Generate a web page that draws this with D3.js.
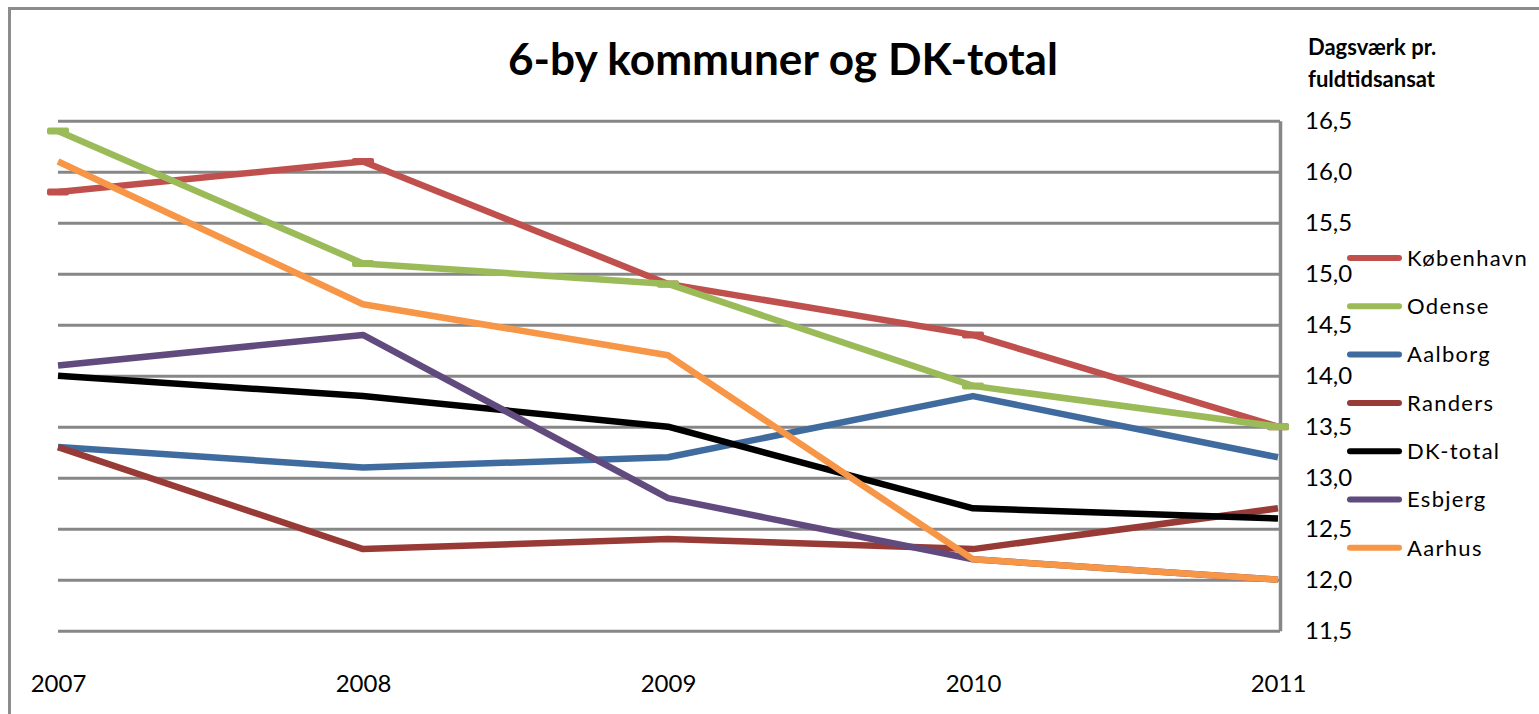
<!DOCTYPE html>
<html>
<head>
<meta charset="utf-8">
<script src="https://cdn.jsdelivr.net/npm/d3@7"></script>
<style>
  body { margin: 0; background: #fff; }
  svg { display: block; font-family: Lato, "Open Sans", sans-serif; }
</style>
</head>
<body>
<svg id="viz" width="1539" height="714"></svg>
<script>
// --- Data ---
const years = ["2007", "2008", "2009", "2010", "2011"];
const yTicks = [11.5, 12.0, 12.5, 13.0, 13.5, 14.0, 14.5, 15.0, 15.5, 16.0, 16.5];

const kobenhavn = [15.8, 16.1, 14.9, 14.4, 13.5];
const odense    = [16.4, 15.1, 14.9, 13.9, 13.5];
const aalborg   = [13.3, 13.1, 13.2, 13.8, 13.2];
const randers   = [13.3, 12.3, 12.4, 12.3, 12.7];
const dkTotal   = [14.0, 13.8, 13.5, 12.7, 12.6];
const esbjerg   = [14.1, 14.4, 12.8, 12.2, 12.0];
const aarhus    = [16.1, 14.7, 14.2, 12.2, 12.0];

const series = [
    { name: "København", values: kobenhavn, color: "#C0504D", marker: true },
    { name: "Odense",    values: odense,    color: "#9BBB59", marker: true },
    { name: "Aalborg",   values: aalborg,   color: "#3F6B9E" },
    { name: "Randers",   values: randers,   color: "#983A36" },
    { name: "DK-total",  values: dkTotal,   color: "#000000" },
    { name: "Esbjerg",   values: esbjerg,   color: "#614A7D" },
    { name: "Aarhus",    values: aarhus,    color: "#F79646" }
];

const CONFIG = {
    left: 58,
    right: 1280,
    top: 120.7,
    bottom: 630.7,
    grid: "#878787",
    lineWidth: 6.5
};

const svg = d3.select("#viz");
const fmt = d => d3.format(".1f")(d).replace(".", ",");

// --- Chart border ---
svg.append("rect")
    .attr("x", 9.5).attr("y", 8.5)
    .attr("width", 1560).attr("height", 740)
    .attr("fill", "none")
    .attr("stroke", "#8c8c8c")
    .attr("stroke-width", 3);

// --- Scales ---
const x = d3.scalePoint().domain(years).range([CONFIG.left, CONFIG.right - 2]);
const y = d3.scaleLinear().domain([11.5, 16.5]).range([CONFIG.bottom, CONFIG.top]);

// --- Y axis (right) with gridlines ---
const yAxis = svg.append("g")
    .attr("transform", `translate(${CONFIG.right},0)`)
    .call(d3.axisRight(y)
        .tickValues(yTicks)
        .tickSizeInner(-(CONFIG.right - CONFIG.left))
        .tickSizeOuter(0)
        .tickPadding(25)
        .tickFormat(fmt));

yAxis.select(".domain")
    .attr("stroke", CONFIG.grid)
    .attr("stroke-width", 3.5);
yAxis.selectAll(".tick line")
    .attr("stroke", CONFIG.grid)
    .attr("stroke-width", 3);
yAxis.selectAll(".tick text")
    .attr("font-size", 24)
    .attr("fill", "#000")
    .attr("font-family", "Lato, sans-serif");

// --- X axis ---
const xAxis = svg.append("g")
    .attr("transform", `translate(0,${CONFIG.bottom})`)
    .call(d3.axisBottom(x).tickSize(0).tickPadding(44));
xAxis.select(".domain").remove();
xAxis.selectAll(".tick text")
    .attr("font-size", 24)
    .attr("fill", "#000")
    .attr("font-family", "Lato, sans-serif");

// --- Lines ---
const line = d3.line()
    .x((d, i) => x(years[i]))
    .y(d => y(d));

const lines = svg.append("g");
series.forEach(s => {
    lines.append("path")
        .datum(s.values)
        .attr("d", line)
        .attr("fill", "none")
        .attr("stroke", s.color)
        .attr("stroke-width", CONFIG.lineWidth)
        .attr("stroke-linejoin", "round");

    if (s.marker) {
        lines.selectAll(null)
            .data(s.values)
            .join("rect")
            .attr("x", (d, i) => x(years[i]) - 11)
            .attr("y", d => y(d) - 3.5)
            .attr("width", 22)
            .attr("height", 7)
            .attr("rx", 2)
            .attr("fill", s.color);
    }
});

// --- Title ---
svg.append("text")
    .attr("x", 783)
    .attr("y", 75)
    .attr("text-anchor", "middle")
    .attr("font-size", 44)
    .attr("font-weight", "bold")
    .attr("textLength", 550)
    .attr("lengthAdjust", "spacingAndGlyphs")
    .text("6-by kommuner og DK-total");

// --- Axis title ---
const axisTitle = svg.append("text")
    .attr("x", 1308)
    .attr("font-size", 22)
    .attr("font-weight", "bold");
axisTitle.append("tspan").attr("x", 1308).attr("y", 55).text("Dagsværk pr.");
axisTitle.append("tspan").attr("x", 1308).attr("y", 87).text("fuldtidsansat");

// --- Legend ---
const legend = svg.append("g")
    .selectAll("g")
    .data(series)
    .join("g")
    .attr("transform", (d, i) => `translate(1347,${258 + i * 48.3})`);

legend.append("line")
    .attr("x1", 3).attr("x2", 52)
    .attr("stroke", d => d.color)
    .attr("stroke-width", 6)
    .attr("stroke-linecap", "round");

legend.append("text")
    .attr("x", 60)
    .attr("dy", "0.35em")
    .attr("font-size", 22)
    .attr("letter-spacing", 1.3)
    .text(d => d.name);
</script>
</body>
</html>
